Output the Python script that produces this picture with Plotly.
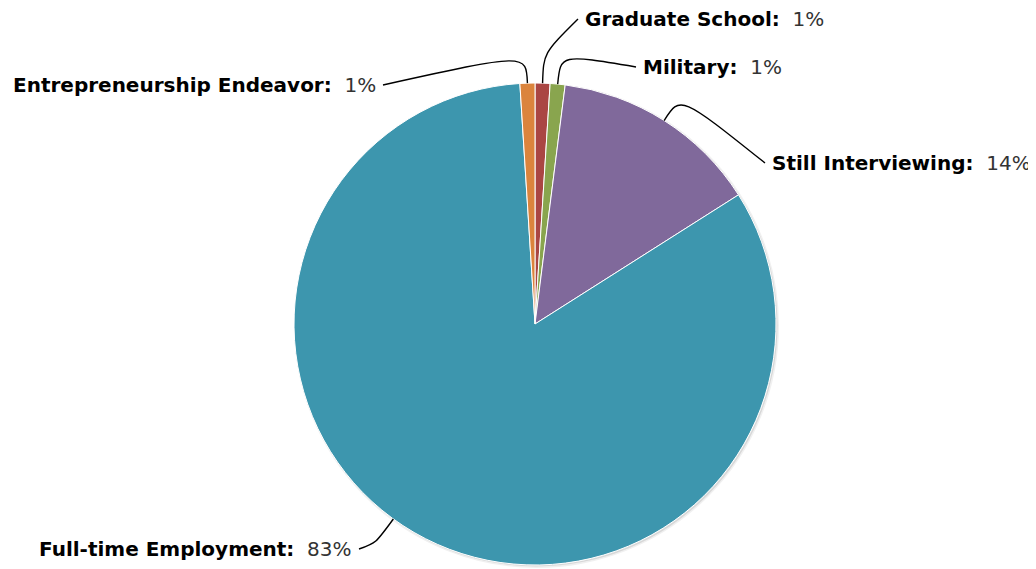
import math
import plotly.graph_objects as go

# ---- data ----
labels = ["Graduate School", "Military", "Still Interviewing",
          "Full-time Employment", "Entrepreneurship Endeavor"]
values = [1, 1, 14, 83, 1]
colors = ["#AA4643", "#89A54E", "#80699B", "#3D96AE", "#DB843D"]

# ---- layout (screen pixels) ----
OFF = 8                      # page body margin
W, H = 1036 - OFF, 569 - OFF
CX, CY, R = 535, 324, 241
FONT = "DejaVu Sans"
FS = 20
# label placement: (anchor, x, y, connector angle nudge in degrees)
label_pos = {
    "Graduate School": ("left", 583, 19, 0),
    "Military": ("left", 641, 67, 0),
    "Still Interviewing": ("left", 770, 163, 0),
    "Full-time Employment": ("right", 354, 549, 9),
    "Entrepreneurship Endeavor": ("right", 378, 85, 0),
}


def px(x):
    return (x - OFF) / W


def py(y):
    return 1 - (y - OFF) / H


fig = go.Figure()

# soft shadow under the pie
fig.add_trace(go.Pie(
    values=[1], labels=["shadow"], sort=False, textinfo="none",
    hoverinfo="skip", showlegend=False,
    marker=dict(colors=["rgba(0,0,0,0.10)"],
                line=dict(color="rgba(0,0,0,0.06)", width=3)),
    domain=dict(x=[px(CX - R + 1.5), px(CX + R + 1.5)],
                y=[py(CY + R + 1.5), py(CY - R + 1.5)]),
))

fig.add_trace(go.Pie(
    labels=labels, values=values, sort=False, direction="clockwise",
    rotation=0, textinfo="none", showlegend=False,
    marker=dict(colors=colors, line=dict(color="#FFFFFF", width=1)),
    domain=dict(x=[px(CX - R), px(CX + R)], y=[py(CY + R), py(CY - R)]),
))

total = sum(values)
cum = 0
shapes = []
annotations = []
for lab, v in zip(labels, values):
    mid = (cum + v / 2) / total * 360
    cum += v
    anchor, lx, ly, nudge = label_pos[lab]
    a = math.radians(mid + nudge)
    ex, ey = CX + R * math.sin(a), CY - R * math.cos(a)
    bx, by = CX + (R + 30) * math.sin(a), CY - (R + 30) * math.cos(a)
    tx = lx - 5 if anchor == "left" else lx + 5
    ty = ly
    path = (f"M {px(ex)},{py(ey)} C {px(bx)},{py(by)} {px(bx)},{py(by)} "
            f"{px(tx)},{py(ty)}")
    shapes.append(dict(type="path", path=path, xref="paper", yref="paper",
                       line=dict(color="#000000", width=1.4)))
    pct = f"{round(v / total * 100)}%"
    annotations.append(dict(
        x=px(lx), y=py(ly), xref="paper", yref="paper",
        xanchor=anchor, yanchor="middle", showarrow=False,
        text=f"<b>{lab}:</b>\u00a0 <span style='color:#333333'>{pct}</span>",
        font=dict(family=FONT, size=FS, color="#000000"),
    ))

fig.update_layout(
    width=W, height=H, autosize=False,
    margin=dict(l=0, r=0, t=0, b=0),
    paper_bgcolor="#FFFFFF", plot_bgcolor="#FFFFFF",
    shapes=shapes, annotations=annotations,
)

fig.write_html("out.html")
